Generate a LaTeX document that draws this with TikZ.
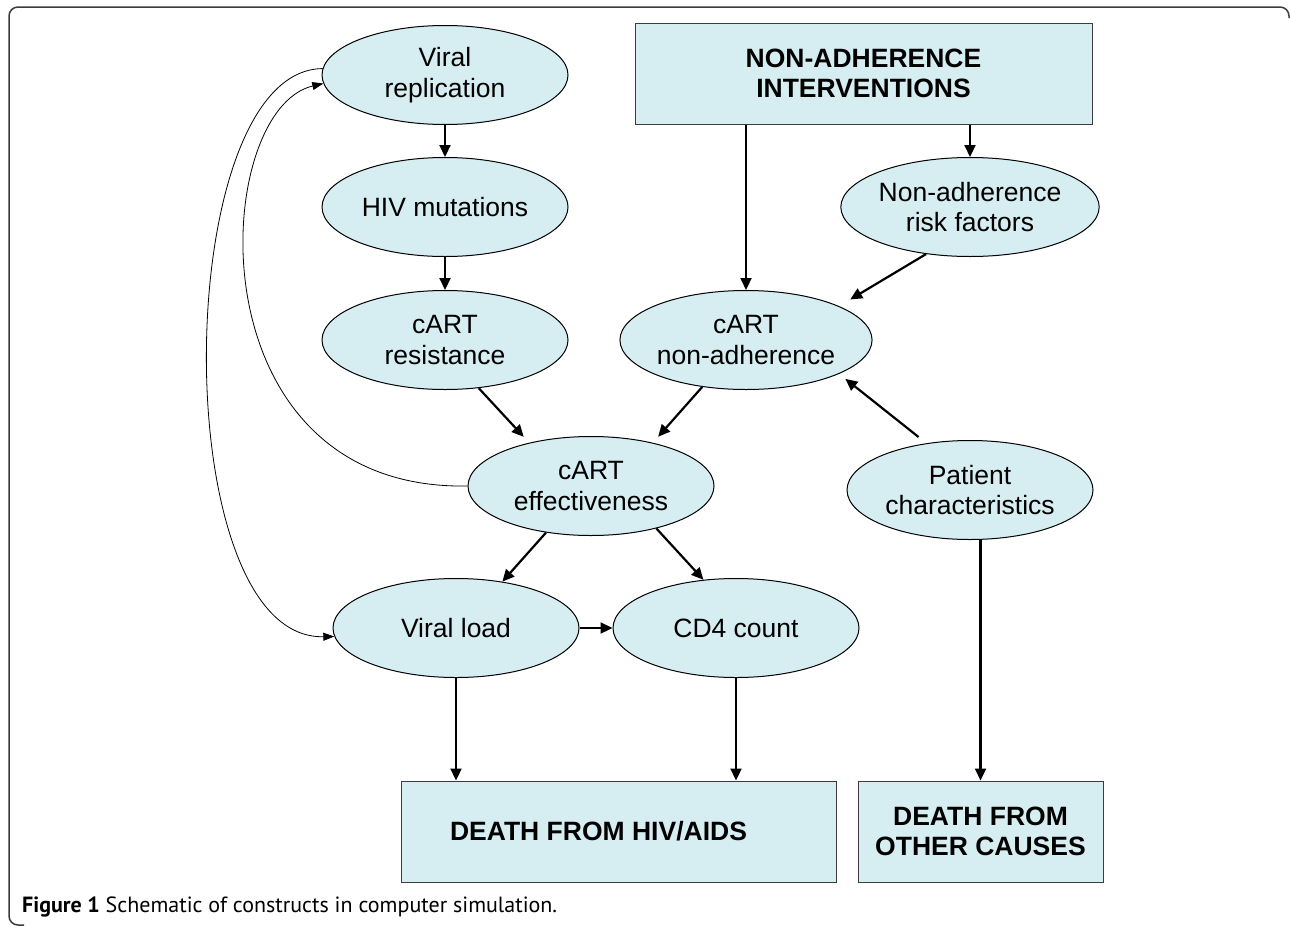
\documentclass[tikz,border=0pt]{standalone}
\usepackage{fontspec}
\setmainfont{Liberation Sans}
\newfontfamily\capfont{PT Sans}
\usetikzlibrary{shapes.geometric,arrows.meta}
\definecolor{cyanfill}{RGB}{214,237,241}
\definecolor{framegray}{RGB}{60,60,60}
\begin{document}
\begin{tikzpicture}[x=1pt,y=-1pt,
  ell/.style={ellipse, draw=black, line width=1pt, fill=cyanfill, minimum width=246pt, minimum height=99pt, inner sep=0pt, align=center, font=\fontsize{26.5}{30.5}\selectfont},
  bx/.style={rectangle, draw=framegray, line width=1pt, fill=cyanfill, inner sep=0pt, align=center, font=\bfseries\fontsize{26.5}{30.5}\selectfont, minimum height=101pt},
  arr/.style={line width=2.2pt, -{Triangle[length=12pt,width=11pt]}},
  thinarr/.style={line width=0.8pt, -{Triangle[length=11pt,width=8pt]}},
]
\useasboundingbox (0,0) rectangle (1290,926);
\fill[white] (0,0) rectangle (1290,926);
\draw[framegray, line width=1.5pt, rounded corners=9pt] (1289,18) -- (1289,7) -- (9,7) -- (9,925) -- (24,925);

% ellipses
\node[ell] (vr) at (445,75) {Viral\\replication};
\node[ell] (hm) at (445,207) {HIV mutations};
\node[ell] (cr) at (445,340) {cART\\resistance};
\node[ell] (cn) at (746,340) {cART\\non-adherence};
\node[ell] (rf) at (970,207) {Non-adherence\\risk factors};
\node[ell] (ce) at (591,486) {cART\\effectiveness};
\node[ell] (pc) at (970,490) {Patient\\characteristics};
\node[ell] (vl) at (456,628) {Viral load};
\node[ell] (cd) at (736,628) {CD4 count};

% boxes
\node[bx, minimum width=457pt] (ni) at (863.5,73.5) {NON-ADHERENCE\\INTERVENTIONS};
\node[bx, minimum width=435pt] (dh) at (618.5,831.5) {DEATH FROM HIV/AIDS\hspace*{40pt}};
\node[bx, minimum width=245pt] (do) at (980.5,831.5) {DEATH FROM\\OTHER CAUSES};

% arrows
\draw[arr] (vr.south) -- (hm.north);
\draw[arr] (hm.south) -- (cr.north);
\draw[arr, shorten >=8pt] (cr.-55) -- (ce.145);
\draw[arr, shorten >=8pt] (cn.-133) -- (ce.35);
\draw[arr] (ce.-134) -- (vl.45);
\draw[arr] (ce.-33) -- (cd.124);
\draw[arr] (vl.east) -- (cd.west);
\draw[arr] (vl.south) -- (vl.south |- dh.north);
\draw[arr] (cd.south) -- (cd.south |- dh.north);
\draw[arr] (cn.north |- ni.south) -- (cn.north);
\draw[arr] (rf.north |- ni.south) -- (rf.north);
\draw[arr, shorten >=13pt] (rf.-133) -- (cn.20);
\draw[arr, shorten <=10pt, shorten >=8pt] (pc.133) -- (cn.-20);
\draw[arr] (do.north |- pc.south) -- (do.north);

% thin feedback curves
\draw[thinarr] (ce.west) .. controls (190,491) and (210,110) .. (vr.184);
\draw[thinarr] (vr.177) .. controls (170,70) and (165,640) .. (vl.184);

% caption
\node[anchor=base west, inner sep=0pt, font=\capfont\fontsize{22}{26}\selectfont] (cap) at (22,912) {\textbf{Figure 1} Schematic of constructs in computer simulation.};
\end{tikzpicture}
\end{document}
